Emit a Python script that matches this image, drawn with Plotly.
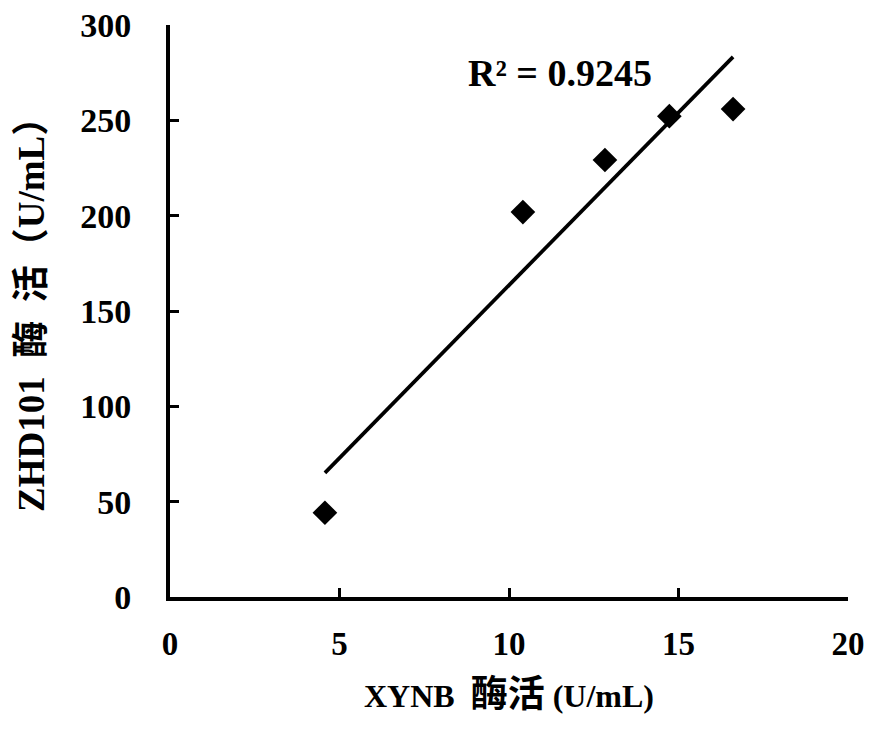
import numpy as np
import plotly.graph_objects as go

x_vals = [4.57, 10.41, 12.83, 14.73, 16.61]
y_vals = [44.2, 201.9, 229.2, 252.2, 255.9]
x_ticks = [0, 5, 10, 15, 20]
y_ticks = [0, 50, 100, 150, 200, 250, 300]
r2_label = "R² = 0.9245"
x_title = "XYNB  <span style='font-size:37px'>酶活</span> (U/mL)"
y_title = "ZHD101  酶  活（U/mL）"

slope, intercept = np.polyfit(x_vals, y_vals, 1)
tx = np.array([min(x_vals), max(x_vals)])
ty = slope * tx + intercept

FONT = "Liberation Serif, Times New Roman, Noto Sans CJK SC, serif"

fig = go.Figure()
fig.add_trace(go.Scatter(x=tx, y=ty, mode="lines",
                         line=dict(color="black", width=3.7), showlegend=False))
fig.add_trace(go.Scatter(x=x_vals, y=y_vals, mode="markers",
                         marker=dict(symbol="diamond", size=19, color="black"),
                         showlegend=False))

fig.update_layout(
    width=883, height=730,
    margin=dict(l=170, r=35, t=25, b=133),
    plot_bgcolor="white", paper_bgcolor="white",
    font=dict(family=FONT, color="black", size=24),
    xaxis=dict(range=[0, 20], tickvals=x_ticks, ticks="inside", ticklen=9,
               tickwidth=3, tickcolor="black", showline=True, linecolor="black",
               linewidth=4, showgrid=False, zeroline=False, automargin=False,
               tickfont=dict(family=FONT, size=33, weight="bold"),
               ticklabelstandoff=14),
    yaxis=dict(range=[0, 300], tickvals=y_ticks, ticks="inside", ticklen=9,
               tickwidth=3, tickcolor="black", showline=True, linecolor="black",
               linewidth=4, showgrid=False, zeroline=False, automargin=False,
               tickfont=dict(family=FONT, size=34, weight="bold"),
               ticklabelstandoff=28),
)

fig.add_annotation(x=11.5, y=275, xref="x", yref="y", text=r2_label,
                   showarrow=False, xanchor="center", yanchor="middle",
                   font=dict(family=FONT, size=38, weight="bold"))
fig.add_annotation(x=0.5, y=0, xref="paper", yref="paper", yshift=-97,
                   xanchor="center", yanchor="middle",
                   text=x_title, showarrow=False,
                   font=dict(family=FONT, size=32, weight="bold"))
fig.add_annotation(x=0, y=0.5, xref="paper", yref="paper", xshift=-139, yshift=5,
                   xanchor="center", yanchor="middle",
                   text=y_title, showarrow=False, textangle=-90,
                   font=dict(family=FONT, size=37, weight="bold"))

fig.write_html("out.html")
